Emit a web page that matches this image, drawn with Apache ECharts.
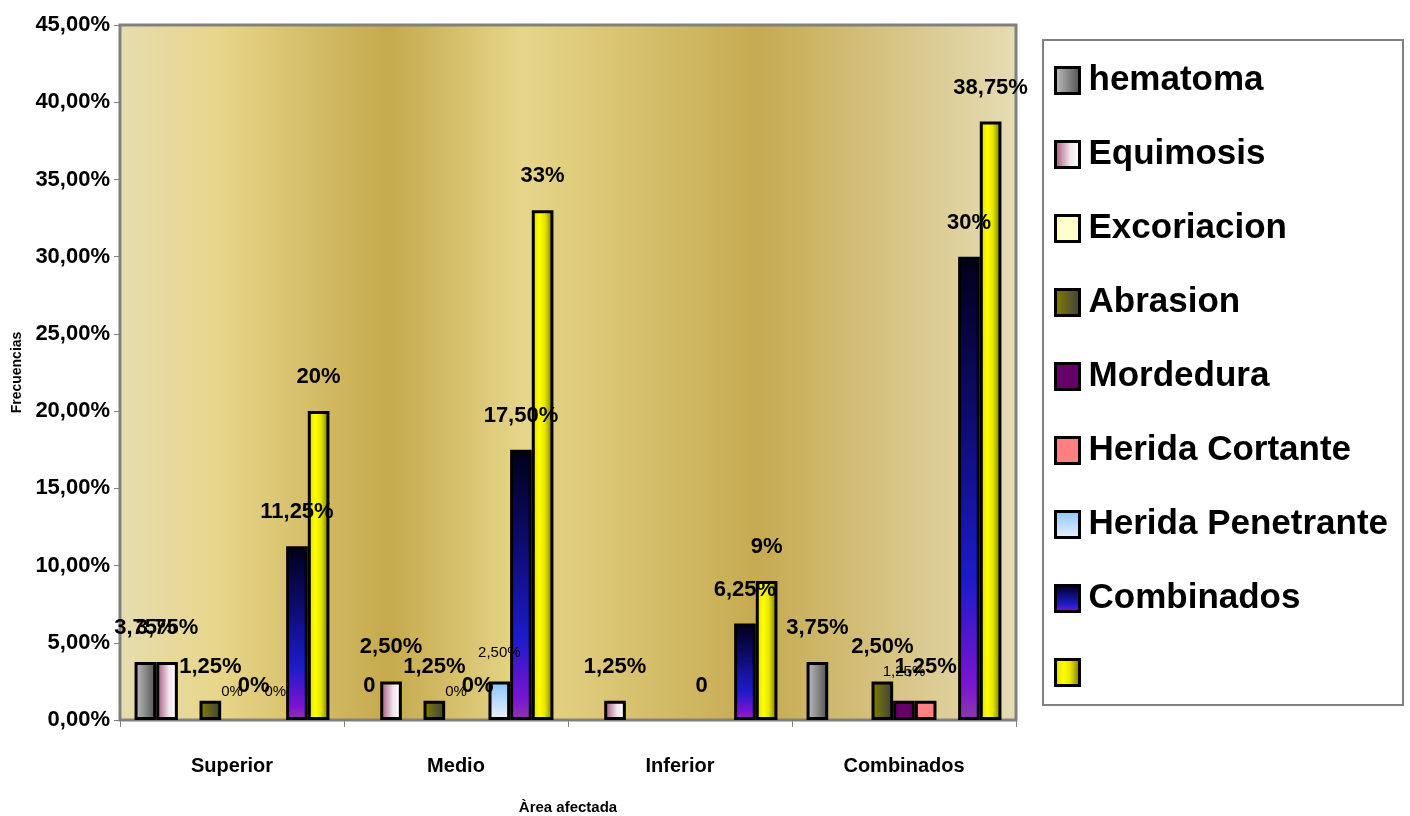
<!DOCTYPE html>
<html>
<head>
<meta charset="utf-8">
<title>Frecuencias por área afectada</title>
<script src="https://cdn.jsdelivr.net/npm/echarts@6/dist/echarts.min.js"></script>
<style>
  html, body { margin: 0; padding: 0; background: #ffffff; }
  #chart { width: 1410px; height: 816px; }
</style>
</head>
<body>
<div id="chart"></div>
<script>
// Categorías del eje X
const categories = ['Superior', 'Medio', 'Inferior', 'Combinados'];

// Porcentajes por tipo de lesión (null = sin dato)
const hematoma         = [3.75, 0,    null, 3.75];
const equimosis        = [3.75, 2.5,  1.25, null];
const excoriacion      = [null, null, null, null];
const abrasion         = [1.25, 1.25, null, 2.5];
const mordedura        = [0,    0,    null, 1.25];
const heridaCortante   = [0,    0,    0,    1.25];
const heridaPenetrante = [0,    2.5,  null, null];
const combinados       = [11.25, 17.5, 6.25, 30];
const sinNombre        = [20,   33,   9,    38.75];

// Eje Y
const yMin = 0, yMax = 45, yStep = 5;

const SANS = "'Liberation Sans', Arial, sans-serif";

function lin(x2, y2, stops) {
  return { type: 'linear', x: 0, y: 0, x2: x2, y2: y2,
    colorStops: stops.map(s => ({ offset: s[0], color: s[1] })) };
}

function pct(v) {
  return Number.isInteger(v) ? v + '%' : v.toFixed(2).replace('.', ',') + '%';
}

// Etiquetas que se muestran sin el signo de porcentaje
const plainLabels = { 'hematoma': [1], 'Herida Cortante': [2] };
// Series con etiquetas de texto pequeño
const smallLabelSeries = ['Mordedura', 'Herida Penetrante'];

const seriesDefs = [
  { name: 'hematoma', data: hematoma, fill: lin(1, 0, [[0, '#c4c4c4'], [1, '#4e4e4e']]) },
  { name: 'Equimosis', data: equimosis, fill: lin(1, 0, [[0, '#9c4a72'], [0.6, '#f2e6ee'], [1, '#ffffff']]) },
  { name: 'Excoriacion', data: excoriacion, fill: '#ffffcc' },
  { name: 'Abrasion', data: abrasion, fill: lin(1, 0, [[0, '#858000'], [1, '#3e3e3e']]) },
  { name: 'Mordedura', data: mordedura, fill: '#660066' },
  { name: 'Herida Cortante', data: heridaCortante, fill: '#ff8080' },
  { name: 'Herida Penetrante', data: heridaPenetrante, fill: lin(0, 1, [[0, '#88c4ff'], [1, '#eef2fb']]) },
  { name: 'Combinados', data: combinados, fill: lin(0, 1, [[0, '#000018'], [0.35, '#0c0c70'], [0.7, '#1c1cc8'], [0.92, '#7a14d0'], [1, '#8a3aa8']]) },
  { name: ' ', data: sinNombre, fill: lin(1, 0, [[0, '#d8d800'], [0.35, '#ffff00'], [0.6, '#e6e600'], [1, '#6e6a00']]) }
];

const series = seriesDefs.map(def => {
  const small = smallLabelSeries.indexOf(def.name) >= 0;
  const plain = plainLabels[def.name] || [];
  return {
    name: def.name,
    type: 'bar',
    barGap: '0%',
    barCategoryGap: '13%',
    itemStyle: { color: def.fill, borderColor: '#000000', borderWidth: 3 },
    data: def.data.map(v => v === 0
      ? { value: v, itemStyle: { borderWidth: 0 } }
      : v),
    label: {
      show: true,
      position: 'top',
      distance: small ? 21 : 23,
      color: '#000000',
      fontFamily: SANS,
      fontWeight: small ? 'normal' : 'bold',
      fontSize: small ? 15 : 22,
      formatter: p => (p.value == null ? '' :
        (plain.indexOf(p.dataIndex) >= 0 ? String(p.value) : pct(p.value)))
    },
    emphasis: { disabled: true },
    animation: false
  };
});

const chart = echarts.init(document.getElementById('chart'), null, { renderer: 'canvas' });

chart.setOption({
  animation: false,
  backgroundColor: '#ffffff',
  grid: {
    left: 120, right: 394, top: 25, bottom: 96,
    outerBoundsMode: 'none',
    containLabel: false,
    show: true,
    borderColor: '#808080',
    borderWidth: 3,
    backgroundColor: lin(1, 0, [
      [0, '#e6dcb0'], [0.11, '#e8d68a'], [0.30, '#c5a94c'],
      [0.45, '#e6d68a'], [0.71, '#c6aa50'], [1, '#e6dcb4']
    ])
  },
  xAxis: {
    type: 'category',
    data: categories,
    name: 'Àrea afectada',
    nameLocation: 'middle',
    nameGap: 80,
    nameTextStyle: { fontFamily: SANS, fontWeight: 'bold', fontSize: 15, color: '#000' },
    axisLine: { lineStyle: { color: '#808080', width: 2 } },
    axisTick: { show: true, length: 7, alignWithLabel: false, lineStyle: { color: '#808080' } },
    axisLabel: { margin: 36, fontFamily: SANS, fontWeight: 'bold', fontSize: 20, color: '#000' },
    splitLine: { show: false }
  },
  yAxis: {
    type: 'value',
    min: yMin, max: yMax, interval: yStep,
    name: 'Frecuencias',
    nameLocation: 'middle',
    nameGap: 92,
    nameTextStyle: { fontFamily: SANS, fontWeight: 'bold', fontSize: 14, color: '#000' },
    axisLine: { show: true, lineStyle: { color: '#808080', width: 2 } },
    axisTick: { show: true, length: 6, lineStyle: { color: '#808080' } },
    axisLabel: {
      margin: 10, fontFamily: SANS, fontWeight: 'bold', fontSize: 22, color: '#000',
      formatter: v => v + ',00%'
    },
    splitLine: { show: false }
  },
  legend: {
    orient: 'vertical',
    left: 1054,
    top: 63,
    padding: 0,
    itemWidth: 24,
    itemHeight: 26,
    itemGap: 39,
    selectedMode: false,
    icon: 'rect',
    itemStyle: { borderColor: '#000000', borderWidth: 3 },
    textStyle: {
      fontFamily: SANS, fontWeight: 'bold', fontSize: 35, color: '#000',
      lineHeight: 35, padding: [0, 0, 0, 4]
    },
    data: seriesDefs.map(d => d.name)
  },
  graphic: [{
    type: 'rect',
    z: -1,
    shape: { x: 1043, y: 40, width: 360, height: 665 },
    style: { fill: '#ffffff', stroke: '#808080', lineWidth: 2 }
  }],
  series: series
});
</script>
</body>
</html>
